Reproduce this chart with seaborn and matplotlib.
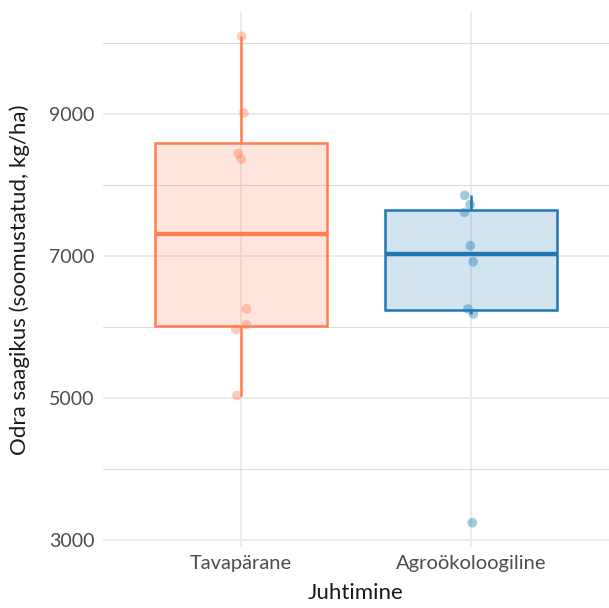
import numpy as np
import pandas as pd
import matplotlib
matplotlib.use('Agg')
import matplotlib.pyplot as plt
import seaborn as sns
from matplotlib.ticker import FixedLocator

sns.set_theme(style="white")
plt.rcParams['font.family'] = ['Lato', 'DejaVu Sans']

# Andmed (loetud jooniselt)
rühmad = ['Tavapärane', 'Agroökoloogiline']
tavaparane = [10100, 9020, 8450, 8370, 6260, 6040, 5970, 5040]
agrookoloogiline = [7860, 7730, 7620, 7150, 6925, 6260, 6190, 3250]
varvid = ['#FF7F50', '#1F78B4']

df = pd.DataFrame({
    'Juhtimine': [rühmad[0]] * len(tavaparane) + [rühmad[1]] * len(agrookoloogiline),
    'saagikus': tavaparane + agrookoloogiline,
})

fig = plt.figure(figsize=(6.09, 6.08), dpi=100)
ax = fig.add_axes([103 / 609, 61 / 608, 506 / 609, 535 / 608])

sns.boxplot(data=df, x='Juhtimine', y='saagikus', hue='Juhtimine', order=rühmad,
            hue_order=rühmad, palette=varvid, width=0.75, showfliers=False,
            showcaps=False, linewidth=1.8, medianprops={'linewidth': 3.2},
            legend=False, ax=ax)
for cont, c in zip(ax.containers, varvid):
    rgb = matplotlib.colors.to_rgb(c)
    for b in cont.boxes:
        b.set_facecolor((*rgb, 0.2))
        b.set_edgecolor(c)
    for ln in list(cont.whiskers) + list(cont.medians):
        ln.set_color(c)

np.random.seed(3)
sns.stripplot(data=df, x='Juhtimine', y='saagikus', hue='Juhtimine', order=rühmad,
              hue_order=rühmad, palette=varvid, jitter=0.03, size=7, alpha=0.4,
              linewidth=0, legend=False, ax=ax)

# ruudustik
ax.set_yticks([3000, 5000, 7000, 9000])
ax.yaxis.set_minor_locator(FixedLocator([4000, 6000, 8000, 10000]))
ax.grid(True, which='major', axis='both', color='#ebebeb', linewidth=1.3)
ax.grid(True, which='minor', axis='y', color='#dcdcdc', linewidth=0.8)
ax.xaxis.grid(True, which='major', color='#ebebeb', linewidth=1.3)
ax.set_axisbelow(True)

ax.set_xlim(-0.6, 1.6)
ax.set_ylim(2907, 10442)
for s in ax.spines.values():
    s.set_visible(False)
ax.tick_params(axis='both', which='both', length=0, colors='#4d4d4d', pad=6)
ax.tick_params(axis='x', labelsize=14.5)
ax.tick_params(axis='y', labelsize=14)
ax.set_xlabel('Juhtimine', fontsize=16, color='#1a1a1a', labelpad=8)
ax.set_ylabel('Odra saagikus (soomustatud, kg/ha)', fontsize=16, color='#1a1a1a', labelpad=14)

fig.savefig('out.png', dpi=100)
